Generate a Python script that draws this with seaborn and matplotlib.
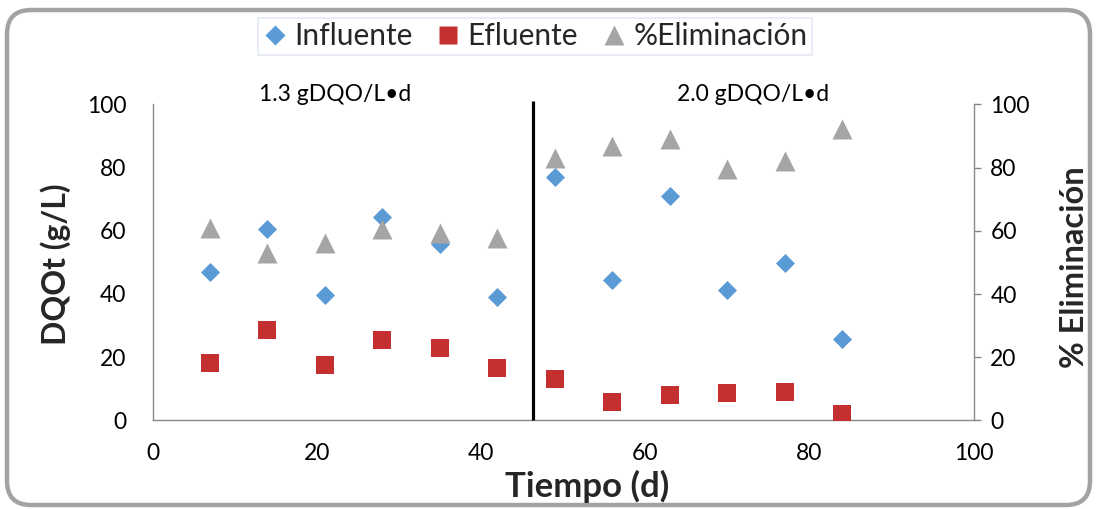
import matplotlib
matplotlib.use('Agg')
import matplotlib.pyplot as plt
import matplotlib.transforms as mtransforms
import seaborn as sns
import pandas as pd
from matplotlib.lines import Line2D
from matplotlib.patches import FancyBboxPatch

# ---------------- data ----------------
tiempo = [7, 14, 21, 28, 35, 42, 49, 56, 63, 70, 77, 84]
influente = [47.0, 60.5, 39.7, 64.3, 55.8, 39.0, 76.9, 44.5, 71.1, 41.3, 49.8, 25.8]
efluente = [18.3, 28.5, 17.4, 25.3, 22.8, 16.5, 13.0, 5.7, 7.9, 8.6, 8.9, 1.9]
eliminacion = [60.9, 53.0, 56.2, 60.5, 59.3, 57.8, 83.0, 86.9, 89.0, 79.7, 82.1, 92.3]
cambio_carga = 46.3
etiquetas_carga = ["1.3 gDQO/L•d", "2.0 gDQO/L•d"]
pos_etiquetas = [22.2, 73.1]
x_ticks = [0, 20, 40, 60, 80, 100]
y_ticks = [0, 20, 40, 60, 80, 100]
series_names = ["Influente", "Efluente", "%Eliminación"]

df = pd.DataFrame({"Tiempo": tiempo, "Influente": influente,
                   "Efluente": efluente, "Eliminacion": eliminacion})

C_BLUE = "#5b9bd5"
C_RED = "#c3302f"
C_GRAY = "#a5a5a5"
C_AX = "#898989"

sns.set_style("white")
plt.rcParams['font.family'] = ['Lato', 'DejaVu Sans']

W, H = 1096, 509
fig = plt.figure(figsize=(W / 100, H / 100), dpi=100)
fig.patch.set_facecolor("white")

left, right, bottom, top = 152.5, 973.7, 420.4, 104.4
ax = fig.add_axes([left / W, 1 - bottom / H, (right - left) / W, (bottom - top) / H])
ax2 = ax.twinx()

sns.scatterplot(data=df, x="Tiempo", y="Influente", ax=ax, marker="D", s=94,
                color=C_BLUE, linewidth=0, zorder=3)
sns.scatterplot(data=df, x="Tiempo", y="Efluente", ax=ax, marker="s", s=182,
                color=C_RED, linewidth=0, zorder=3)
sns.scatterplot(data=df, x="Tiempo", y="Eliminacion", ax=ax2, marker="^", s=207,
                color=C_GRAY, linewidth=0, zorder=3)

for a in (ax, ax2):
    a.set_xlim(0, 100)
    a.set_ylim(0, 100)
    a.set_xlabel("")
    a.set_ylabel("")
    a.grid(False)
    for s in a.spines.values():
        s.set_color(C_AX)
        s.set_linewidth(1.0)
    a.spines["top"].set_visible(False)

ax.set_xticks(x_ticks)
ax.set_yticks(y_ticks)
ax2.set_yticks(y_ticks)
ax.tick_params(axis="x", length=0, pad=16, labelsize=16.5, colors="black")
ax.tick_params(axis="y", length=0, pad=19, labelsize=16.5, colors="black")
ax2.tick_params(axis="y", length=5, width=1, color=C_AX, pad=7, labelsize=16.5,
                labelcolor="black", direction="out")
ax2.spines["left"].set_visible(False)
ax2.spines["bottom"].set_visible(False)
ax.spines["right"].set_visible(False)

# vertical separator
ax.plot([cambio_carga, cambio_carga], [0, 101.2], color="black", lw=2.3,
        clip_on=False, zorder=4, solid_capstyle="butt")

for lab, xp in zip(etiquetas_carga, pos_etiquetas):
    ax.text(xp, 101.0, lab, ha="center", va="baseline", fontsize=16.5,
            color="black")

# axis labels
fig.text(56 / W, 1 - 264 / H, "DQOt (g/L)", rotation=90, ha="center",
         va="center", fontsize=23, fontweight="bold")
fig.text(1075 / W, 1 - 267 / H, "% Eliminación", rotation=90, ha="center",
         va="center", fontsize=23.5, fontweight="bold")
fig.text(587 / W, 1 - 486 / H, "Tiempo (d)", ha="center", va="center",
         fontsize=25, fontweight="bold")

# legend
handles = [
    Line2D([], [], ls="none", marker="D", ms=10, mfc=C_BLUE, mec="none"),
    Line2D([], [], ls="none", marker="s", ms=13.0, mfc=C_RED, mec="none"),
    Line2D([], [], ls="none", marker="^", ms=14.0, mfc=C_GRAY, mec="none"),
]
leg = fig.legend(handles, series_names, loc="upper center",
                 bbox_to_anchor=(535 / W, 1 - 18 / H), ncol=3, fontsize=21.5,
                 frameon=True, fancybox=False, handlelength=0.8,
                 handletextpad=0.25, columnspacing=0.8, borderpad=0.15,
                 borderaxespad=0)
leg.get_frame().set_edgecolor("#dbe3f0")
leg.get_frame().set_linewidth(1.2)

# outer rounded border (pixel coords)
border = FancyBboxPatch((7, H - 505), 1090 - 7, 505 - 10,
                        boxstyle="round,pad=0,rounding_size=24",
                        transform=mtransforms.IdentityTransform(),
                        facecolor="none", edgecolor="#a3a3a3", linewidth=3.2,
                        zorder=0)
fig.add_artist(border)

fig.savefig("out.png", dpi=100)
